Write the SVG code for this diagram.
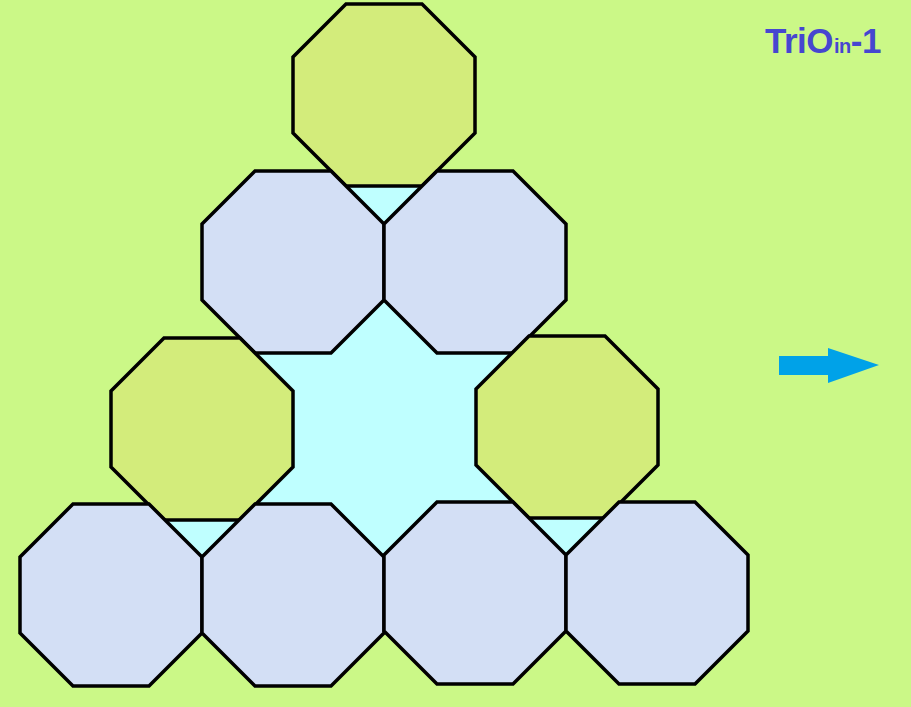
<svg xmlns="http://www.w3.org/2000/svg" width="911" height="707" viewBox="0 0 911 707">
<style>
.oct{stroke:#000;stroke-width:3.5;stroke-linejoin:miter}
.green{fill:#D3EC7B}
.blue{fill:#D3DFF5}
.title{font-family:"Liberation Sans",Arial,sans-serif;font-weight:bold;fill:#4646D0}
</style>
<defs>
<polygon id="octShape" points="53,0 129,0 182,53 182,129 129,182 53,182 0,129 0,53"/>
</defs>
<rect x="0" y="0" width="911" height="707" fill="#CBF887"/>
<polygon id="gap" points="384,95 111,595 657,593" fill="#BFFFFF"/>
<g id="oct-top" transform="translate(293,4)"><use href="#octShape" class="oct green"/></g>
<g id="oct-r2-left" transform="translate(202,171)"><use href="#octShape" class="oct blue"/></g>
<g id="oct-r2-right" transform="translate(384,171)"><use href="#octShape" class="oct blue"/></g>
<g id="oct-r3-left" transform="translate(111,338)"><use href="#octShape" class="oct green"/></g>
<g id="oct-r3-right" transform="translate(476,336)"><use href="#octShape" class="oct green"/></g>
<g id="oct-r4-a" transform="translate(20,504)"><use href="#octShape" class="oct blue"/></g>
<g id="oct-r4-b" transform="translate(202,504)"><use href="#octShape" class="oct blue"/></g>
<g id="oct-r4-c" transform="translate(384,502)"><use href="#octShape" class="oct blue"/></g>
<g id="oct-r4-d" transform="translate(566,502)"><use href="#octShape" class="oct blue"/></g>
<g id="connectors">
<polygon id="arrow" points="779,356 828,356 828,348 879,365 828,383 828,375 779,375" fill="#00A2E8"/>
</g>
<g id="title">
<text class="title" x="765" y="53" font-size="35" letter-spacing="-0.5">TriO<tspan font-size="20" dx="1">in</tspan>-1</text>
</g>
</svg>
